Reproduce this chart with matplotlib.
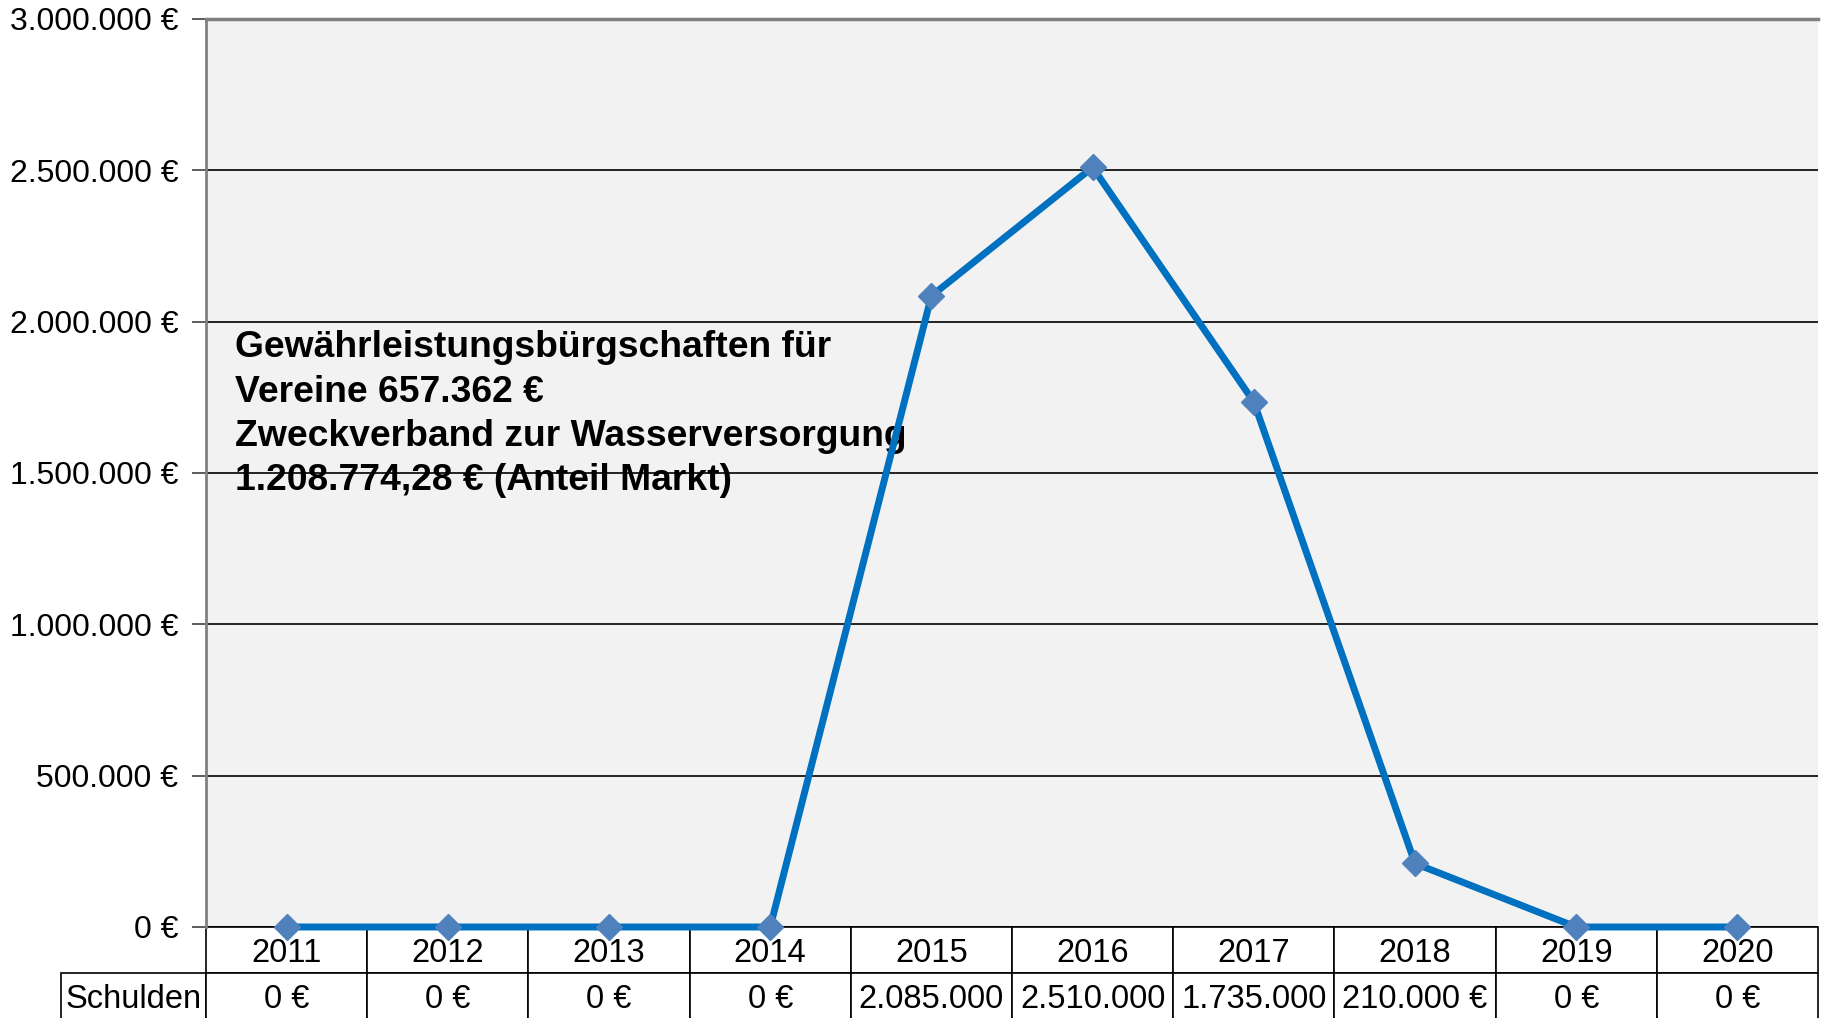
import matplotlib.pyplot as plt
from matplotlib.table import Table
from matplotlib.ticker import FuncFormatter

years = ['2011', '2012', '2013', '2014', '2015', '2016', '2017', '2018', '2019', '2020']
schulden = [0, 0, 0, 0, 2085000, 2510000, 1735000, 210000, 0, 0]
table_texts = ['0 €', '0 €', '0 €', '0 €', '2.085.000', '2.510.000', '1.735.000', '210.000 €', '0 €', '0 €']
row_label = 'Schulden'
note = ('Gewährleistungsbürgschaften für\nVereine 657.362 €\n'
        'Zweckverband zur Wasserversorgung\n1.208.774,28 € (Anteil Markt)')


def euro(v, pos):
    return f'{int(v):,} €'.replace(',', '.')


def main():
    plt.rcParams['font.family'] = ['Liberation Sans', 'DejaVu Sans']
    fig = plt.figure(figsize=(18.3, 10.18), dpi=100)
    ax = fig.add_axes([206 / 1830, 91 / 1018, 1612 / 1830, 908 / 1018])
    ax.set_facecolor('#F2F2F2')

    x = list(range(len(years)))
    ax.plot(x, schulden, color='#0070C0', lw=5, marker='D', ms=13,
            mfc='#4F81BD', mec='#4F81BD', clip_on=False, zorder=5)

    ax.set_xlim(-0.5, len(years) - 0.5)
    ax.set_ylim(0, 3000000)
    ax.set_yticks(range(0, 3000001, 500000))
    ax.yaxis.set_major_formatter(FuncFormatter(euro))
    ax.tick_params(axis='y', labelsize=23, length=10, width=1.2, pad=10, color='#404040')
    ax.set_xticks([])
    ax.grid(axis='y', color='black', lw=1.2)
    ax.set_axisbelow(True)
    for s in ['right', 'bottom']:
        ax.spines[s].set_visible(False)
    ax.spines['left'].set_color('#808080')
    ax.spines['left'].set_linewidth(2)
    ax.spines['top'].set_color('#808080')
    ax.spines['top'].set_linewidth(2.5)

    ax.text(0.018, 0.657, note, transform=ax.transAxes, fontsize=26.8,
            fontweight='bold', va='top', ha='left', linespacing=1.34)

    # data table under the plot (bbox covers the year columns only)
    lab_w = 145 / 1612
    h = 46 / 908
    tab = Table(ax, bbox=[0, -2 * h, 1, 2 * h])
    cw = 1 / len(years)
    for i, (yr, t) in enumerate(zip(years, table_texts)):
        tab.add_cell(0, i, width=cw, height=h, text=yr, loc='center')
        tab.add_cell(1, i, width=cw, height=h, text=t, loc='center')
    tab.add_cell(1, -1, width=lab_w, height=h, text=row_label, loc='center')
    tab.auto_set_font_size(False)
    tab.set_fontsize(23.5)
    for c in tab.get_celld().values():
        c.set_linewidth(1.2)
        c.set_edgecolor('black')
        c.set_facecolor('white')
        c.get_text().set_va('center_baseline')
    tab.set_clip_on(False)
    ax.add_table(tab)

    fig.savefig('out.png', dpi=100)


if __name__ == '__main__':
    main()
